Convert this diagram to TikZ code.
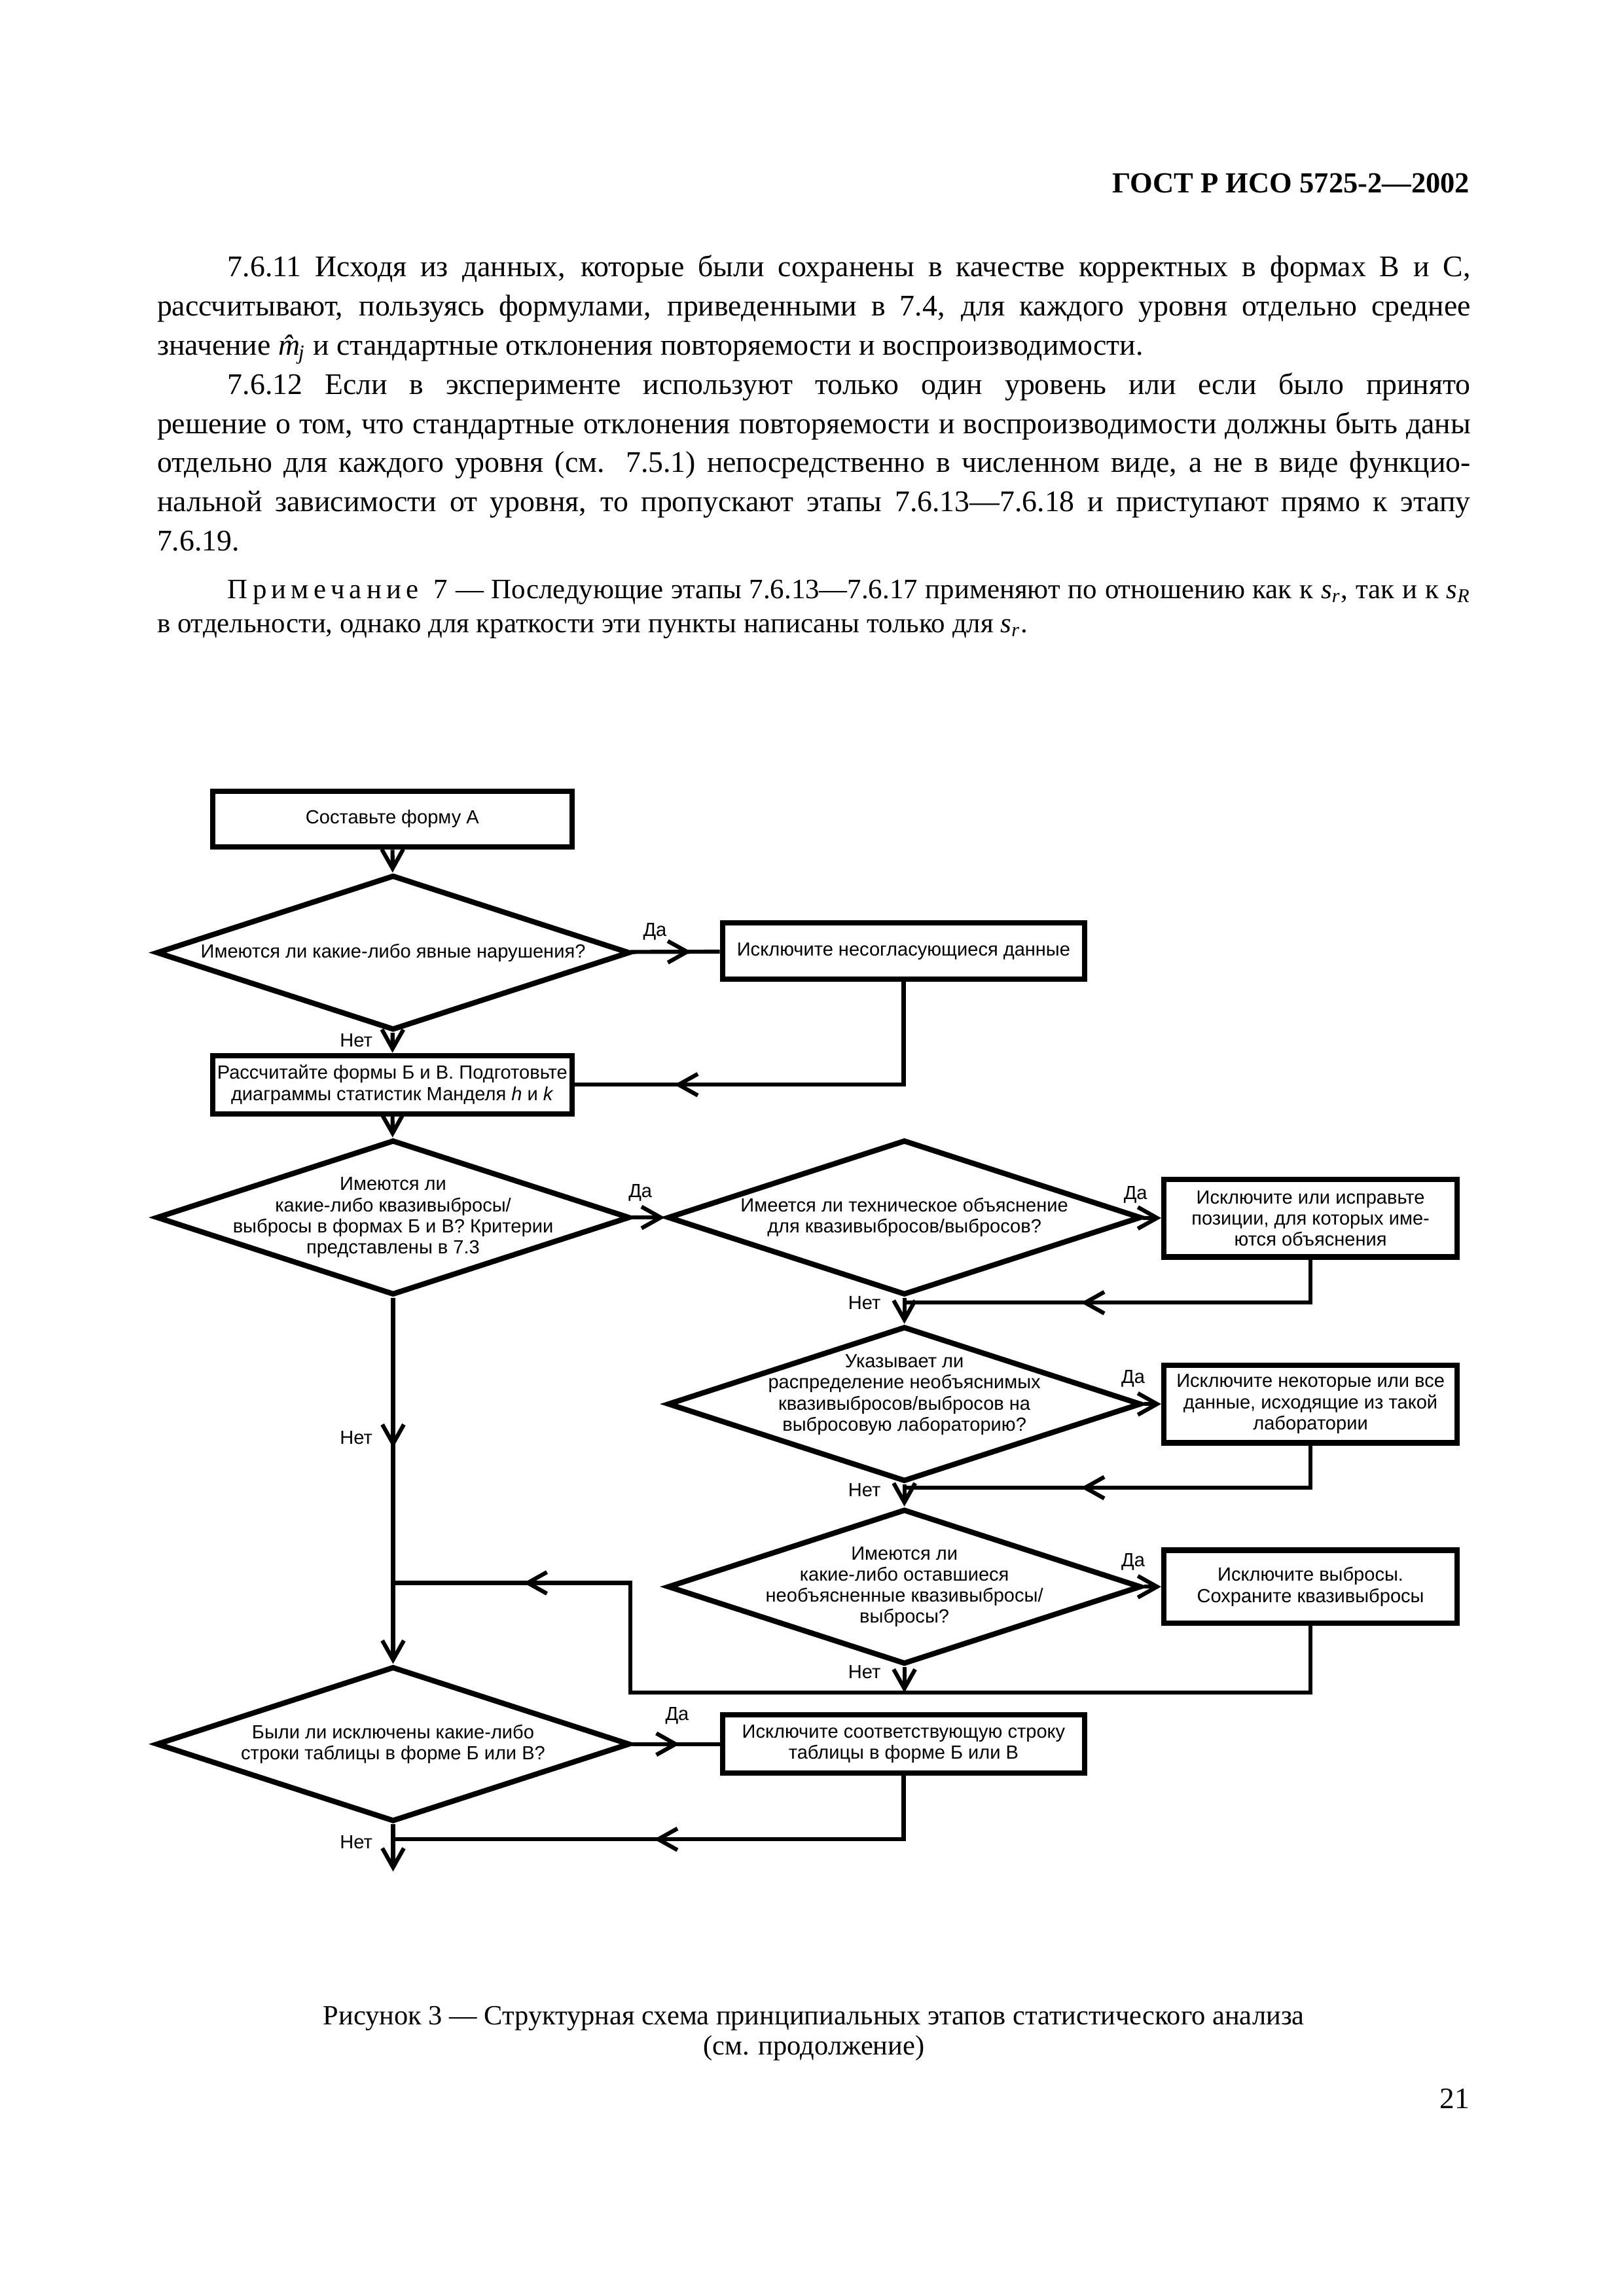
\documentclass[tikz,border=0pt]{standalone}
\usepackage{fontspec}
\setmainfont{Liberation Serif}
\newfontfamily\chartfont{Liberation Sans}
\usetikzlibrary{shapes.geometric}
\usetikzlibrary{arrows.meta}
\usetikzlibrary{decorations.markings}
\newcommand{\sidx}[1]{\textit{s}\textsubscript{\textit{#1}}}
\tikzset{every node/.style={inner sep=0pt},
    chart/.style={
        font=\chartfont\fontsize{7.05}{7.8}\selectfont},
    block/.style={
        chart,
        draw,
        line width=2pt,
        align=center,
        minimum width=4.68cm,
        minimum height=0.73cm},
    eblock/.style={
        block,
        minimum width=3.82cm,
        minimum height=1.01cm},
    decision/.style={
        draw,
        diamond,
        line width=2pt,
        minimum width=6.17cm,
        minimum height=2.02cm},
    dtext/.style={
        chart,
        align=center},
    answer/.style={
        chart},
    line/.style={
        draw,
        line width=1.5pt},
    >={Straight Barb[length=2.5mm,width=2.8mm]},
    arrow at/.style={
        postaction={decorate},
        decoration={markings,
            mark=at position #1 with {\arrow{>}}}}}

\begin{document}
\begin{tikzpicture}
        \useasboundingbox (0,0) rectangle (21.15,-29.91);

        % page text
        \node[anchor=east, font=\bfseries\fontsize{10.8}{13}\selectfont] (header) at (19.15,-2.39) {ГОСТ Р ИСО 5725-2—2002};
        \node[anchor=north west, text width=17.11cm, align=justify, font=\fontsize{11.1}{14.5}\selectfont] (body) at (2.04,-3.32) {%
            \hspace*{0.92cm}7.6.11 Исходя из данных, которые были сохранены в качестве корректных в формах В и С,\linebreak
            рассчитывают, пользуясь формулами, приведенными в 7.4, для каждого уровня отдельно среднее\linebreak
            значение {\itshape m̂\kern-0.05em\textsubscript{j}} и стандартные отклонения повторяемости и воспроизводимости.\par
            \hspace*{0.92cm}7.6.12 Если в эксперименте используют только один уровень или если было принято\linebreak
            решение о том, что стандартные отклонения повторяемости и воспроизводимости должны быть даны\linebreak
            отдельно для каждого уровня (см. 7.5.1) непосредственно в численном виде, а не в виде функцио-\linebreak
            нальной зависимости от уровня, то пропускают этапы 7.6.13—7.6.18 и приступают прямо к этапу\linebreak
            7.6.19.};
        \node[anchor=north west, text width=17.11cm, align=justify, font=\fontsize{10.4}{12.5}\selectfont] (note) at (2.04,-7.55) {%
            \hspace*{0.92cm}П\,р\,и\,м\,е\,ч\,а\,н\,и\,е\ \ 7 — Последующие этапы 7.6.13—7.6.17 применяют по отношению как к \sidx{r}, так и к \sidx{R}\linebreak
            в отдельности, однако для краткости эти пункты написаны только для \sidx{r}.};

        % flowchart
        \node[block] (formA) at (5.11,-10.67) {Составьте форму А};
        \node[decision] (obvious) at (5.12,-12.41) {};
        \node[dtext] (obviousq) at (obvious) {Имеются ли какие-либо явные нарушения?};
        \node[block, minimum width=4.72cm] (drop) at (11.77,-12.39) {Исключите несогласующиеся данные};
        \node[block, minimum height=0.76cm] (calc) at (5.11,-14.13) {Рассчитайте формы Б и В. Подготовьте\\диаграммы статистик Манделя \textit{h} и \textit{k}};

        \node[decision] (outl) at (5.12,-15.86) {};
        \node[dtext] (outlq) at (outl) {Имеются ли\\какие-либо квазивыбросы/\\выбросы в формах Б и В? Критерии\\представлены в 7.3};
        \node[decision] (tech) at (11.78,-15.86) {};
        \node[dtext] (techq) at (tech) {Имеется ли техническое объяснение\\для квазивыбросов/выбросов?};
        \node[eblock] (fix) at (17.07,-15.87) {Исключите или исправьте\\позиции, для которых име-\\ются объяснения};

        \node[decision] (lab) at (11.78,-18.29) {};
        \node[dtext] (labq) at ([yshift=0.12cm]lab) {Указывает ли\\распределение необъяснимых\\квазивыбросов/выбросов на\\выбросовую лабораторию?};
        \node[eblock] (droplab) at (17.07,-18.29) {Исключите некоторые или все\\данные, исходящие из такой\\лаборатории};

        \node[decision] (rest) at (11.78,-20.67) {};
        \node[dtext] (restq) at (rest) {Имеются ли\\какие-либо оставшиеся\\необъясненные квазивыбросы/\\выбросы?};
        \node[eblock, minimum height=0.95cm] (keep) at (17.07,-20.67) {Исключите выбросы.\\Сохраните квазивыбросы};

        \node[decision] (rows) at (5.12,-22.72) {};
        \node[dtext] (rowsq) at (rows) {Были ли исключены какие-либо\\строки таблицы в форме Б или В?};
        \node[block, minimum width=4.72cm, minimum height=0.76cm] (droprow) at (11.77,-22.72) {Исключите соответствующую строку\\таблицы в форме Б или В};

        \coordinate (j1) at (11.78,-16.97);
        \coordinate (j2) at (11.78,-19.38);
        \coordinate (j3) at (11.78,-22.05);
        \coordinate (c3) at (8.21,-22.05);
        \coordinate (j4) at (5.12,-20.62);
        \coordinate (j5) at (5.12,-23.96);
        \coordinate (endp) at (5.12,-24.38);

        \draw[line,->] (formA) -- (obvious);
        \draw[line,arrow at=0.68] (obvious) -- (drop);
        \draw[line,->] (obvious) -- (calc);
        \draw[line,arrow at=-1.3cm] (drop) |- (calc);
        \draw[line,->] (calc) -- (outl);

        \draw[line,->] (outl) -- (tech);
        \draw[line,->] (tech) -- (fix);
        \draw[line,->] (tech) -- (lab);
        \draw[line,arrow at=-2.3cm] (fix) |- (j1);

        \draw[line,->] (lab) -- (droplab);
        \draw[line,->] (lab) -- (rest);
        \draw[line,arrow at=-2.3cm] (droplab) |- (j2);

        \draw[line,->] (rest) -- (keep);
        \draw[line,->] (rest) -- (j3);
        \draw[line,arrow at=-1.7cm] (keep) |- (c3) |- (j4);

        \draw[line,->,arrow at=0.41] (outl) -- (rows);
        \draw[line,arrow at=0.54] (rows) -- (droprow);
        \draw[line,arrow at=-3.4cm] (droprow) |- (j5);
        \draw[line,->] (rows) -- (endp);

        % answers
        \node[answer] (yes1) at (8.53,-12.14) {Да};
        \node[answer] (no1) at (4.64,-13.55) {Нет};
        \node[answer] (yes2) at (8.34,-15.54) {Да};
        \node[answer] (no2) at (4.64,-18.73) {Нет};
        \node[answer] (yes3) at (14.79,-15.56) {Да};
        \node[answer] (no3) at (11.26,-16.97) {Нет};
        \node[answer] (yes4) at (14.76,-17.96) {Да};
        \node[answer] (no4) at (11.26,-19.41) {Нет};
        \node[answer] (yes5) at (14.76,-20.35) {Да};
        \node[answer] (no5) at (11.26,-21.78) {Нет};
        \node[answer] (yes6) at (8.82,-22.35) {Да};
        \node[answer] (no6) at (4.64,-24.00) {Нет};

        % caption
        \node[align=center, font=\fontsize{10.3}{11.3}\selectfont] (caption) at (10.60,-26.49) {Рисунок 3 — Структурная схема принципиальных этапов статистического анализа\\(см. продолжение)};
        \node[anchor=east, font=\fontsize{11}{13}\selectfont] (pagenum) at (19.15,-27.34) {21};
\end{tikzpicture}
\end{document}
